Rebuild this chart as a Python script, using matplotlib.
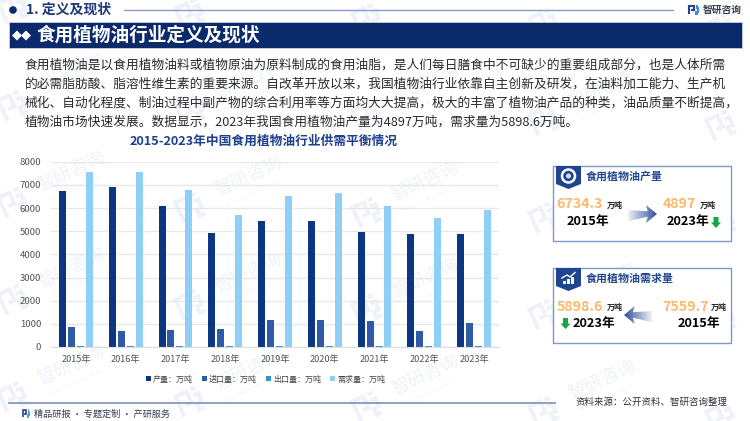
import numpy as np
import matplotlib
matplotlib.use("Agg")
import matplotlib.pyplot as plt
from matplotlib.patches import Rectangle, Polygon, Circle

plt.rcParams['font.family'] = ['Noto Sans CJK SC', 'DejaVu Sans']

years = ['2015年', '2016年', '2017年', '2018年', '2019年', '2020年', '2021年', '2022年', '2023年']
production = [6734.3, 6900, 6070, 4930, 5420, 5460, 4960, 4890, 4897]
imports = [850, 690, 740, 790, 1150, 1170, 1120, 700, 1020]
exports = [40, 45, 45, 45, 40, 40, 40, 35, 35]
demand = [7559.7, 7570, 6770, 5720, 6530, 6630, 6100, 5590, 5898.6]
series_names = ['产量：万吨', '进口量：万吨', '出口量：万吨', '需求量：万吨']
y_ticks = [0, 1000, 2000, 3000, 4000, 5000, 6000, 7000, 8000]

body_lines = [
    '食用植物油是以食用植物油料或植物原油为原料制成的食用油脂，是人们每日膳食中不可缺少的重要组成部分，也是人体所需',
    '的必需脂肪酸、脂溶性维生素的重要来源。自改革开放以来，我国植物油行业依靠自主创新及研发，在油料加工能力、生产机',
    '械化、自动化程度、制油过程中副产物的综合利用率等方面均大大提高，极大的丰富了植物油产品的种类，油品质量不断提高，',
    '植物油市场快速发展。数据显示，2023年我国食用植物油产量为4897万吨，需求量为5898.6万吨。',
]

NAVY = '#0b2a6b'
BLUE = '#1f4590'
ORANGE = '#fdb96b'
GREEN = '#12a84a'
WATERMARK = '#eff3f9'
colors = ['#0c3582', '#2f5aa8', '#2f97d8', '#90cff5']


def logo(ax, x, y, s, c1, c2, angle=0, lw=2.0, z=1):
    # stylised company mark, drawn from a few strokes around (x, y)
    a = np.deg2rad(angle)
    def pts(seq):
        p = np.array(seq, dtype=float) * s
        return (x + p[:, 0] * np.cos(a) + p[:, 1] * np.sin(a),
                y - p[:, 0] * np.sin(a) + p[:, 1] * np.cos(a))
    for seq, c in [([(-1, 1), (-1, -1), (0.1, -1), (0.1, 0.1), (-0.5, 0.1)], c1),
                   ([(0.5, -1), (1, -1)], c2),
                   ([(0.5, -0.4), (1, -0.4), (1, 0.4), (0.5, 0.4), (0.5, 1), (1.05, 1)], c2)]:
        xs, ys = pts(seq)
        ax.plot(xs, ys, color=c, lw=lw, solid_capstyle='butt', solid_joinstyle='miter', zorder=z)


def gradient_arrow(ax, x0, x1, y, h, reverse=False):
    # arrow that fades from transparent at the tail to blue at the head
    g = np.linspace(0, 1, 128).reshape(1, -1)
    rgba = np.zeros((1, 128, 4))
    rgba[..., :3] = matplotlib.colors.to_rgb('#2d4f9c')
    rgba[..., 3] = 0.08 + 0.92 * g
    if reverse:
        rgba = rgba[:, ::-1]
    im = ax.imshow(rgba, extent=(x0, x1, y + h, y - h), aspect='auto', zorder=3, interpolation='bilinear')
    L = x1 - x0
    if not reverse:
        pg = [(x0, y - h * 0.45), (x0 + L * 0.68, y - h * 0.3), (x0 + L * 0.62, y - h), (x1, y),
              (x0 + L * 0.62, y + h), (x0 + L * 0.68, y + h * 0.3), (x0, y + h * 0.8)]
    else:
        pg = [(x1, y - h * 0.45), (x1 - L * 0.68, y - h * 0.3), (x1 - L * 0.62, y - h), (x0, y),
              (x1 - L * 0.62, y + h), (x1 - L * 0.68, y + h * 0.3), (x1, y + h * 0.8)]
    patch = Polygon(pg, closed=True, transform=ax.transData, fc='none', ec='none')
    ax.add_patch(patch)
    im.set_clip_path(patch)


def down_arrow(ax, x, y0, y1, w):
    ax.add_patch(Polygon([(x - w * 0.25, y0), (x + w * 0.25, y0), (x + w * 0.25, (y0 + y1) / 2),
                          (x + w * 0.5, (y0 + y1) / 2), (x, y1), (x - w * 0.5, (y0 + y1) / 2),
                          (x - w * 0.25, (y0 + y1) / 2)], fc=GREEN, ec='none', zorder=3))


def card(ax, y, title):
    ax.add_patch(Rectangle((553, y), 178, 75, fc='white', ec='#7f97c9', lw=1.0, zorder=2))
    ax.add_patch(Polygon([(556, y), (581, y), (581, y + 18), (568.5, y + 23), (556, y + 18)], fc=BLUE, ec='none', zorder=3))
    ax.text(586, y + 10.5, title, fontsize=7.9, fontweight='bold', color=BLUE, va='center', zorder=3)


fig = plt.figure(figsize=(7.5, 4.21), dpi=100, facecolor='white')
bg = fig.add_axes([0, 0, 1, 1], zorder=0)
bg.set_xlim(0, 750)
bg.set_ylim(421, 0)
bg.axis('off')

# watermark tiles, text only where the whole tile fits on the page
for col in range(5):
    for row in range(5):
        wx = 13 + col * 177
        wy = 9 + row * 97 + col * 5
        logo(bg, wx, wy, 11, WATERMARK, WATERMARK, angle=25, lw=3.0, z=1)
        if wy - 32 > 22 and wy - 14 < 405 and wx + 58 < 715:
            bg.text(wx + 58, wy - 32, '智研咨询', fontsize=13, color=WATERMARK, rotation=25,
                    ha='center', va='center', zorder=1)
            bg.text(wx + 62, wy - 14, 'INTELLIGENCE RESEARCH GROUP', fontsize=2.6, color=WATERMARK,
                    rotation=25, ha='center', va='center', zorder=1)

# header
bg.add_patch(Circle((13, 10), 3.8, fc=NAVY, ec='none', zorder=2))
bg.text(26, 10, '1. 定义及现状', fontsize=10, fontweight='bold', color='#1f3a7a', va='center', zorder=2)
bg.plot([124, 673], [9.5, 9.5], color='#8a9cc8', lw=1.0, zorder=2)
logo(bg, 693.5, 10, 4.2, BLUE, '#3f8fd8', lw=1.5, z=2)
bg.text(703, 9.5, '智研咨询', fontsize=7, fontweight='bold', color='#333f50', va='center', zorder=2)

bg.add_patch(Rectangle((9, 22), 733, 26, fc=NAVY, ec='#c5d0e6', lw=0.6, zorder=2))
for cx in (17, 26):
    bg.add_patch(Polygon([(cx - 5, 35.5), (cx, 30.5), (cx + 5, 35.5), (cx, 40.5)], fc='white', ec='none', zorder=3))
bg.text(36, 35, '食用植物油行业定义及现状', fontsize=13.4, fontweight='bold', color='white', va='center', zorder=3)

for i, line in enumerate(body_lines):
    bg.text(25, 65.5 + i * 18.8, line, fontsize=9.15, color='#2a2a2a', va='center', zorder=2)

bg.text(264, 141, '2015-2023年中国食用植物油行业供需平衡情况', fontsize=9.15, fontweight='bold',
        color='#1f3f8f', ha='center', va='center', zorder=2)

# production card
card(bg, 166, '食用植物油产量')
bg.text(556, 204, '6734.3', fontsize=10.2, fontweight='bold', color=ORANGE, va='center', zorder=3)
bg.text(607, 205, '万吨', fontsize=5.8, fontweight='bold', color='#222222', va='center', zorder=3)
bg.text(567, 222, '2015年', fontsize=9.2, fontweight='bold', color='black', va='center', zorder=3)
gradient_arrow(bg, 628, 657, 214, 9)
bg.text(663, 204, '4897', fontsize=10.2, fontweight='bold', color=ORANGE, va='center', zorder=3)
bg.text(700, 205, '万吨', fontsize=5.8, fontweight='bold', color='#222222', va='center', zorder=3)
bg.text(667, 222, '2023年', fontsize=9.2, fontweight='bold', color='black', va='center', zorder=3)
down_arrow(bg, 716, 217, 228, 10)

# demand card
card(bg, 268, '食用植物油需求量')
bg.text(557, 307, '5898.6', fontsize=10.2, fontweight='bold', color=ORANGE, va='center', zorder=3)
bg.text(607, 307, '万吨', fontsize=5.8, fontweight='bold', color='#222222', va='center', zorder=3)
down_arrow(bg, 565.5, 318, 329, 10)
bg.text(573, 324, '2023年', fontsize=9.2, fontweight='bold', color='black', va='center', zorder=3)
gradient_arrow(bg, 624, 652, 315, 9, reverse=True)
bg.text(662, 307, '7559.7', fontsize=10.2, fontweight='bold', color=ORANGE, va='center', zorder=3)
bg.text(711, 307, '万吨', fontsize=5.8, fontweight='bold', color='#222222', va='center', zorder=3)
bg.text(678, 324, '2015年', fontsize=9.2, fontweight='bold', color='black', va='center', zorder=3)

# card badge icons
bg.add_patch(Circle((568.5, 176), 6.5, fc='none', ec='white', lw=1.8, zorder=4))
bg.add_patch(Circle((568.5, 176), 2.5, fc='#cfe0f5', ec='none', zorder=4))
for k, h in enumerate([3, 5, 7]):
    bg.add_patch(Rectangle((563 + k * 4, 284 - h), 2.6, h, fc='white', ec='none', zorder=4))
bg.plot([562, 567, 570, 575], [278, 275, 277, 272.5], color='white', lw=1.0, zorder=4)

# footer
bg.plot([9, 555], [403, 403], color='#8f9fc4', lw=1.4, zorder=2)
logo(bg, 26, 413.5, 3.2, BLUE, '#3f8fd8', lw=1.2, z=2)
bg.text(34, 414, '精品研报 · 专题定制 · 产研服务', fontsize=6.6, color='#333f50', va='center', zorder=2)
bg.text(576, 402, '资料来源：公开资料、智研咨询整理', fontsize=6.8, color='#333333', va='center', zorder=2)

bg.set_xlim(0, 750)
bg.set_ylim(421, 0)

# chart
ax = fig.add_axes([51 / 750, (421 - 347) / 421, 448 / 750, (347 - 161.7) / 421], zorder=1)
ax.patch.set_visible(False)
x = np.arange(len(years))
step = 8.9 / 49.8
width = 7 / 49.8
handles = []
for j, vals in enumerate([production, imports, exports, demand]):
    handles.append(ax.bar(x + (j - 1.5) * step, vals, width, color=colors[j], label=series_names[j], zorder=2))
ax.set_xlim(-0.5, 8.5)
ax.set_ylim(0, 8000)
ax.set_yticks(y_ticks)
ax.set_xticks(x)
ax.set_xticklabels(years)
ax.tick_params(axis='y', length=0, labelsize=6.9, labelcolor='#555555', pad=7)
ax.tick_params(axis='x', length=0, labelsize=6.6, labelcolor='#555555', pad=6)
ax.grid(axis='y', color='#e8e8e8', lw=1.0, zorder=0)
ax.set_axisbelow(True)
for s in ['top', 'right', 'left']:
    ax.spines[s].set_visible(False)
ax.spines['bottom'].set_color('#dddddd')
ax.legend(handles=handles, loc='center', bbox_to_anchor=(0.479, -0.174), ncol=4, frameon=False,
          fontsize=5.8, handlelength=0.6, handleheight=0.6, handletextpad=0.3, columnspacing=1.1,
          labelcolor='#444444')

fig.savefig('out.png', dpi=100, facecolor='white')
plt.close(fig)
